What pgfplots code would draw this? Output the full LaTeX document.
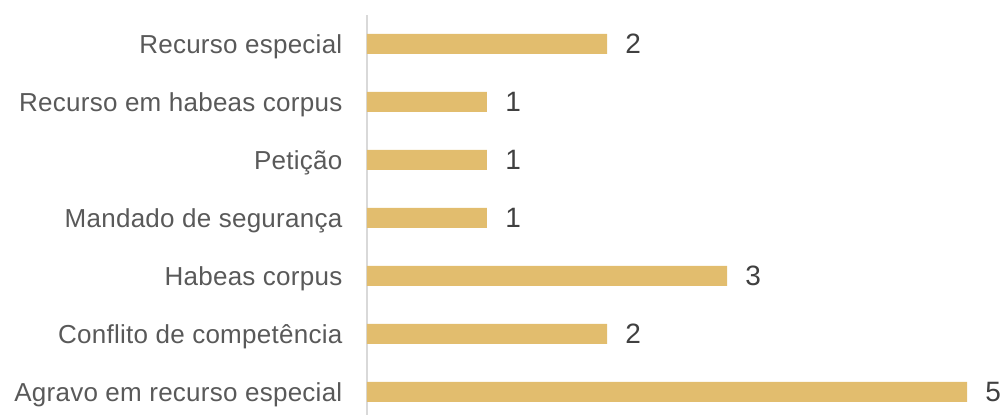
\documentclass[border=0pt]{standalone}
\usepackage{fontspec}
\setmainfont{Liberation Sans}
\newfontfamily\labfont{Liberation Sans}[LetterSpace=1]
\usepackage{pgfplots}
\pgfplotsset{compat=1.18}
\definecolor{barcol}{RGB}{226,189,110}
\definecolor{labcol}{RGB}{89,89,89}
\definecolor{numcol}{RGB}{64,64,64}
\definecolor{axcol}{RGB}{217,217,217}
\begin{document}
\begin{tikzpicture}
\begin{axis}[
  at={(0,0)}, anchor=south west,
  scale only axis,
  width=315pt, height=200pt,
  xbar, bar width=10pt,
  xmin=0, xmax=5.25,
  ymin=-0.4, ymax=6.5,
  axis x line=none,
  axis y line=left,
  y axis line style={-, draw=axcol, line width=1pt},
  xtick=\empty,
  ytick={0,1,2,3,4,5,6},
  yticklabels={Agravo em recurso especial, Conflito de competência, Habeas corpus,
    Mandado de segurança, Petição, Recurso em habeas corpus, Recurso especial},
  ytick style={draw=none},
  yticklabel style={font=\labfont\fontsize{13}{15}\selectfont, text=labcol,
    inner sep=0pt, anchor=base east, xshift=-10pt, yshift=-4.6pt},
  /pgf/number format/assume math mode=true,
  nodes near coords,
  every node near coord/.append style={font=\fontsize{14}{16}\selectfont,
    text=numcol, inner sep=0pt, anchor=base west, xshift=9pt, yshift=-5pt},
  clip=false,
]
\addplot[fill=barcol, draw=none] coordinates {
  (5,0) (2,1) (3,2) (1,3) (1,4) (1,5) (2,6)};
\end{axis}
\pgfresetboundingbox
\path (-183.5pt,0pt) rectangle (317pt,207.5pt);
\end{tikzpicture}
\end{document}
